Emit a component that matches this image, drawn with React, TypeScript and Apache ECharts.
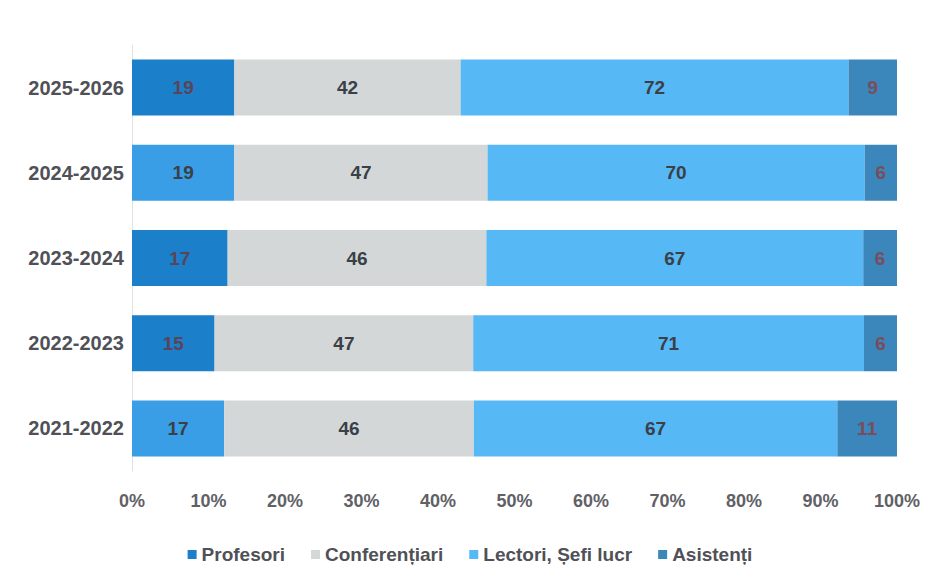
import React, { useEffect, useRef } from "react";
import * as echarts from "echarts";

const categories = ["2021-2022", "2022-2023", "2023-2024", "2024-2025", "2025-2026"];
const profesori = [17, 15, 17, 19, 19];
const conferentiari = [46, 47, 46, 47, 42];
const lectori = [67, 71, 67, 70, 72];
const asistenti = [11, 6, 6, 6, 9];
const seriesNames = ["Profesori", "Conferențiari", "Lectori, Șefi lucr", "Asistenți"];
const xTicks = [0, 10, 20, 30, 40, 50, 60, 70, 80, 90, 100];

const FONT = "'Liberation Sans Narrow', 'Arial Narrow', 'Liberation Sans', Arial, sans-serif";

export default function App() {
  const ref = useRef<HTMLDivElement>(null);
  useEffect(() => {
    document.body.style.margin = "0";
    if (!ref.current) return;
    const chart = echarts.init(ref.current, null, { renderer: "svg" });
    const all = [profesori, conferentiari, lectori, asistenti];
    const totals = categories.map((_, i) => all.reduce((s, arr) => s + arr[i], 0));
    const colors = ["#1c7fc9", "#d4d7d7", "#56b8f5", "#3b86bb"];
    const profLight = "#3a9ee6";
    const labelColors = ["#5a4458", "#3a3f48", "#3a3f48", "#7a4d5a"];
    const series = all.map((arr, si) => ({
      name: seriesNames[si],
      type: "bar",
      stack: "total",
      barWidth: 56,
      itemStyle: { color: colors[si] },
      label: {
        show: true,
        position: "inside",
        color: labelColors[si],
        fontFamily: FONT,
        fontWeight: "bold",
        fontSize: 19,
        formatter: (p: any) => String(arr[p.dataIndex]),
      },
      data: arr.map((v, i) => {
        const val = (v / totals[i]) * 100;
        if (si === 0 && (i === 0 || i === 3)) {
          return { value: val, itemStyle: { color: profLight }, label: { color: "#3a3f48" } };
        }
        return val;
      }),
    }));
    chart.setOption({
      animation: false,
      backgroundColor: "#ffffff",
      grid: { left: 132, right: 43, top: 45, bottom: 96, containLabel: false },
      xAxis: {
        type: "value",
        min: 0,
        max: 100,
        interval: 10,
        axisLine: { show: false },
        axisTick: { show: false },
        splitLine: { show: false },
        axisLabel: {
          margin: 21,
          color: "#5f6166",
          fontFamily: FONT,
          fontWeight: "bold",
          fontSize: 18,
          formatter: (v: number) => (xTicks.includes(v) ? v + "%" : ""),
        },
      },
      yAxis: {
        type: "category",
        data: categories,
        axisLine: { show: true, lineStyle: { color: "#e2e2e2" } },
        axisTick: { show: false },
        axisLabel: {
          margin: 8,
          color: "#4f5157",
          fontFamily: FONT,
          fontWeight: "bold",
          fontSize: 20,
        },
      },
      legend: {
        data: seriesNames,
        left: "center",
        top: 540,
        icon: "rect",
        itemWidth: 9,
        itemHeight: 9,
        itemGap: 26,
        textStyle: {
          color: "#4f5157",
          fontFamily: FONT,
          fontWeight: "bold",
          fontSize: 19,
        },
      },
      series,
    });
    return () => chart.dispose();
  }, []);
  return <div ref={ref} style={{ width: 940, height: 567 }} />;
}
